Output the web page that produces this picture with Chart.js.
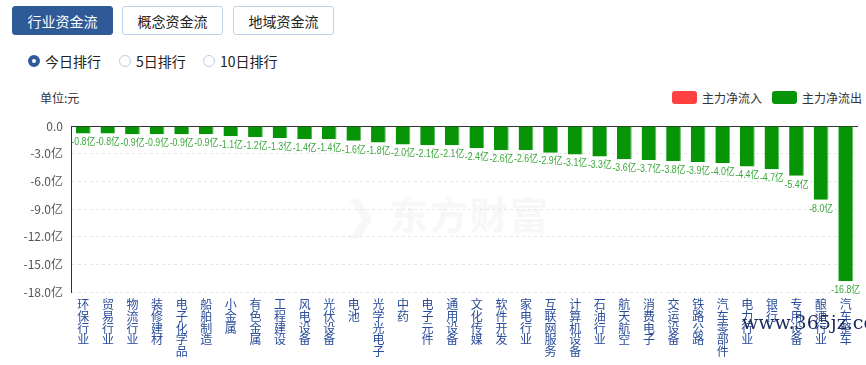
<!DOCTYPE html>
<html><head><meta charset="utf-8">
<script src="https://cdn.jsdelivr.net/npm/chart.js@4"></script>
<style>
body{margin:0;background:#fff;font-family:"Noto Sans CJK SC","Noto Sans",sans-serif;width:866px;height:365px;overflow:hidden;position:relative}
.btn{position:absolute;top:6px;height:29px;line-height:29px;width:101px;text-align:center;font-size:14px;box-sizing:border-box;border:1px solid #bcd3ea;border-radius:3px;color:#222;background:#fff}
.btn.on{background:#2e5a97;border-color:#2e5a97;color:#fff}
.radio{position:absolute;top:52px;font-size:14px;color:#222;line-height:18px}
.radio i{position:absolute;left:0;top:3px;width:12px;height:12px;border-radius:50%;box-sizing:border-box;border:1px solid #b8d0e8;background:#fff}
.radio i.on{border:4px solid #2e5a97}
.radio span{position:absolute;left:17px;top:0;white-space:nowrap}
#unit{position:absolute;left:40px;top:89px;font-size:12px;color:#333}
.lg{position:absolute;top:91px;width:25px;height:13px;border-radius:3px}
.lgt{position:absolute;top:89px;font-size:12px;color:#333;white-space:nowrap}
#wm{position:absolute;left:345px;top:185px;font-size:38px;font-weight:bold;color:#f7f7f7;letter-spacing:2px}
#site{position:absolute;left:742px;top:311px;font-family:"DejaVu Serif",serif;font-size:19px;color:#1b2a5c;z-index:5}
#c{position:absolute;left:0;top:80px}
</style></head><body>
<div class="btn on" style="left:12px">行业资金流</div>
<div class="btn" style="left:122px">概念资金流</div>
<div class="btn" style="left:233px">地域资金流</div>
<div class="radio" style="left:28px"><i class="on"></i><span>今日排行</span></div>
<div class="radio" style="left:119px"><i></i><span>5日排行</span></div>
<div class="radio" style="left:203px"><i></i><span>10日排行</span></div>
<div id="unit">单位:元</div>
<div class="lg" style="left:672px;background:#ff4040"></div><div class="lgt" style="left:702px">主力净流入</div>
<div class="lg" style="left:772px;background:#079407"></div><div class="lgt" style="left:802px">主力净流出</div>
<div id="wm">❯ 东方财富</div>
<div id="site">www.365jz.com</div>
<canvas id="c" width="866" height="285"></canvas>
<script>
const categories = ["环保行业","贸易行业","物流行业","装修建材","电子化学品","船舶制造","小金属","有色金属","工程建设","风电设备","光伏设备","电池","光学光电子","中药","电子元件","通用设备","文化传媒","软件开发","家电行业","互联网服务","计算机设备","石油行业","航天航空","消费电子","交运设备","铁路公路","汽车零部件","电力行业","银行","专用设备","酿酒行业","汽车整车"];
const netOutflow = [-0.8,-0.8,-0.9,-0.9,-0.9,-0.9,-1.1,-1.2,-1.3,-1.4,-1.4,-1.6,-1.8,-2.0,-2.1,-2.1,-2.4,-2.6,-2.6,-2.9,-3.1,-3.3,-3.6,-3.7,-3.8,-3.9,-4.0,-4.4,-4.7,-5.4,-8.0,-16.8];
const yTicks = [0,-3,-6,-9,-12,-15,-18];

const labelPlugin = {
  id:'vals',
  afterDatasetsDraw(chart){
    const ctx = chart.ctx;
    const meta = chart.getDatasetMeta(0);
    ctx.save();
    ctx.font = '10px "Liberation Sans", "Noto Sans CJK SC", sans-serif';
    ctx.fillStyle = '#3aa83a';
    ctx.textAlign = 'center';
    ctx.textBaseline = 'top';
    meta.data.forEach((bar,i)=>{
      ctx.save();
      ctx.translate(bar.x, bar.y+4);
      ctx.scale(0.88,1);
      ctx.fillText(netOutflow[i].toFixed(1)+'亿', 0, 0);
      ctx.restore();
    });
    ctx.restore();
  }
};

new Chart(document.getElementById('c'),{
  type:'bar',
  data:{
    labels: categories.map(s=>s.split('')),
    datasets:[{data:netOutflow, backgroundColor:'#079407', borderColor:'#5cbc5c', borderWidth:{left:0,top:0,right:1,bottom:0}, barPercentage:0.6, categoryPercentage:1}]
  },
  options:{
    responsive:false, animation:false,
    layout:{padding:{top:46,left:0,right:8,bottom:0}},
    plugins:{legend:{display:false},tooltip:{enabled:false}},
    scales:{
      x:{
        grid:{display:false,drawTicks:false},
        border:{display:false},
        ticks:{color:'#2a4c9a',font:{size:12,family:'"Noto Sans CJK SC", sans-serif',lineHeight:0.97},padding:7,maxRotation:0,minRotation:0,autoSkip:false},
        afterFit:s=>{s.height=73;}
      },
      y:{
        min:-18,max:0,
        afterBuildTicks:s=>{s.ticks=yTicks.map(v=>({value:v}));},
        ticks:{color:'#555',font:{size:12,family:'"Noto Sans CJK SC", sans-serif'},padding:8,
          callback:v=>v===0?'0.0':v.toFixed(1)+'亿'},
        grid:{color:c=>c.tick&&c.tick.value===0?'#333':'#e6e6e6',lineWidth:1,drawTicks:false},
        border:{display:true,color:'#333',dash:c=>c.tick&&c.tick.value===0?[]:[3,3]},
        afterFit:s=>{s.width=71;}
      }
    }
  },
  plugins:[labelPlugin]
});
</script>
</body></html>
